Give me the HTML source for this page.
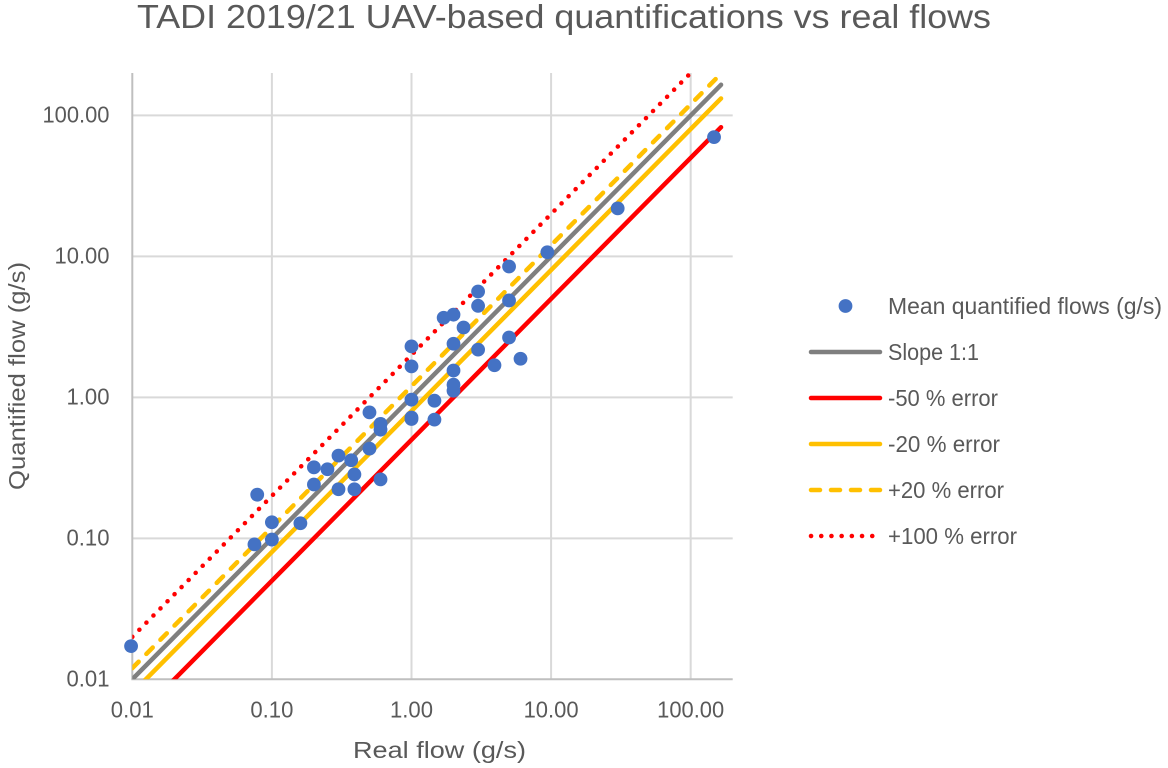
<!DOCTYPE html>
<html lang="en">
<head>
<meta charset="utf-8">
<title>TADI 2019/21 UAV-based quantifications vs real flows</title>
<style>
html,body{margin:0;padding:0;background:#fff;}
#chart{display:block;width:1168px;height:768px;font-family:"Liberation Sans",sans-serif;}
text{fill:#595959;}
</style>
</head>
<body>
<svg id="chart" xmlns="http://www.w3.org/2000/svg" width="1168" height="768" viewBox="0 0 1168 768">
  <defs>
    <clipPath id="plot-clip"><rect x="132.3" y="73" width="600.4" height="606.3"></rect></clipPath>
  </defs>
  <text x="564" y="28" text-anchor="middle" font-size="33.5" textLength="854" lengthAdjust="spacingAndGlyphs">TADI 2019/21 UAV-based quantifications vs real flows</text>
  <g id="grid"></g>
  <g id="axes"></g>
  <g id="lines" clip-path="url(#plot-clip)"></g>
  <g id="points"></g>
  <text x="439.5" y="758" text-anchor="middle" font-size="23.5" textLength="173" lengthAdjust="spacingAndGlyphs">Real flow (g/s)</text>
  <text transform="translate(25,376) rotate(-90)" text-anchor="middle" font-size="23.5" textLength="228" lengthAdjust="spacingAndGlyphs">Quantified flow (g/s)</text>
  <g>
    <g>
      <circle cx="845.5" cy="306" r="6.9" fill="#4472c4"></circle>
      <text x="888" y="314" font-size="23" textLength="274" lengthAdjust="spacingAndGlyphs">Mean quantified flows (g/s)</text>
    </g>
    <g>
      <line x1="811" y1="352" x2="880" y2="352" stroke="#7f7f7f" stroke-width="4.5" stroke-linecap="round"></line>
      <text x="888" y="360" font-size="23" textLength="91" lengthAdjust="spacingAndGlyphs">Slope 1:1</text>
    </g>
    <g>
      <line x1="811" y1="398" x2="880" y2="398" stroke="#ff0000" stroke-width="4.5" stroke-linecap="round"></line>
      <text x="888" y="406" font-size="23" textLength="110" lengthAdjust="spacingAndGlyphs">-50 % error</text>
    </g>
    <g>
      <line x1="811" y1="444" x2="880" y2="444" stroke="#ffc000" stroke-width="4.5" stroke-linecap="round"></line>
      <text x="888" y="452" font-size="23" textLength="112" lengthAdjust="spacingAndGlyphs">-20 % error</text>
    </g>
    <g>
      <line x1="811" y1="490" x2="880" y2="490" stroke="#ffc000" stroke-width="4.5" stroke-linecap="round" stroke-dasharray="9 11"></line>
      <text x="888" y="498" font-size="23" textLength="116" lengthAdjust="spacingAndGlyphs">+20 % error</text>
    </g>
    <g>
      <line x1="811" y1="536" x2="874" y2="536" stroke="#ff0000" stroke-width="4.5" stroke-linecap="round" stroke-dasharray="0.1 10.1"></line>
      <text x="888" y="544" font-size="23" textLength="129" lengthAdjust="spacingAndGlyphs">+100 % error</text>
    </g>
  </g>
</svg>
<script>
var xTicks = [0.01, 0.1, 1, 10, 100];
var yTicks = [0.01, 0.1, 1, 10, 100];
var xTickLabels = ['0.01', '0.10', '1.00', '10.00', '100.00'];
var yTickLabels = ['0.01', '0.10', '1.00', '10.00', '100.00'];
var axisMin = 0.01;
var axisMax = 200;

var realFlows = [0.0098, 0.0785, 0.1, 0.1, 0.075, 0.16, 0.2, 0.2, 0.25, 0.3, 0.3, 0.37, 0.39, 0.39, 0.5, 0.5, 0.6, 0.6, 0.6, 1, 1, 1, 1, 1, 1.46, 1.46, 1.7, 2, 2, 2, 2, 2, 2.36, 3, 3, 3, 3.93, 5, 5, 5, 6.04, 9.4, 30, 147];
var quantifiedFlows = [0.0172, 0.204, 0.13, 0.098, 0.0906, 0.128, 0.319, 0.241, 0.309, 0.386, 0.223, 0.358, 0.284, 0.223, 0.783, 0.433, 0.648, 0.59, 0.262, 0.963, 0.703, 0.72, 2.3, 1.66, 0.947, 0.695, 3.67, 3.86, 2.4, 1.55, 1.23, 1.115, 3.13, 5.64, 4.46, 2.18, 1.69, 8.48, 4.87, 2.66, 1.88, 10.7, 21.9, 70.2];

var slopeX = [0.01, 165];
var slopeY = [0.01, 165];
var minus50X = [0.01, 165];
var minus50Y = [0.005, 82.5];
var minus20X = [0.01, 165];
var minus20Y = [0.008, 132];
var plus20X = [0.01, 155];
var plus20Y = [0.012, 186];
var plus100X = [0.01, 96];
var plus100Y = [0.02, 192];

var SVG_NS = 'http://www.w3.org/2000/svg';
var plotLeft = 132.3, plotRight = 732.7, plotTop = 73, plotBottom = 679.3;

function log10(v) { return Math.log(v) / Math.LN10; }
function xScale(v) {
  return plotLeft + (log10(v) - log10(axisMin)) / (log10(axisMax) - log10(axisMin)) * (plotRight - plotLeft);
}
function yScale(v) {
  return plotBottom - (log10(v) - log10(axisMin)) / (log10(axisMax) - log10(axisMin)) * (plotBottom - plotTop);
}
function make(tag, attrs, parent) {
  var el = document.createElementNS(SVG_NS, tag);
  for (var k in attrs) { el.setAttribute(k, attrs[k]); }
  parent.appendChild(el);
  return el;
}
function labelWidth(s) { return (s.length - 1) * 12 + 7; }

var grid = document.getElementById('grid');
var axes = document.getElementById('axes');
var linesGroup = document.getElementById('lines');
var pointsGroup = document.getElementById('points');

xTicks.forEach(function (t, i) {
  if (i > 0) {
    var g = make('line', {x1: xScale(t), x2: xScale(t), y1: plotTop, y2: plotBottom, stroke: '#d9d9d9', 'stroke-width': 2}, grid);
    
    
  }
  var label = make('text', {x: xScale(t), y: 717.5, 'text-anchor': 'middle', 'font-size': 23.5, textLength: labelWidth(xTickLabels[i]), lengthAdjust: 'spacingAndGlyphs'}, axes);
  
  
  label.textContent = xTickLabels[i];
});

yTicks.forEach(function (t, i) {
  if (i > 0) {
    var g = make('line', {x1: plotLeft, x2: plotRight, y1: yScale(t), y2: yScale(t), stroke: '#d9d9d9', 'stroke-width': 2}, grid);
    
    
  }
  var label = make('text', {x: 109.5, y: yScale(t) + 7, 'text-anchor': 'end', 'font-size': 23.5, textLength: labelWidth(yTickLabels[i]), lengthAdjust: 'spacingAndGlyphs'}, axes);
  
  
  label.textContent = yTickLabels[i];
});

var xAxisLine = make('line', {x1: plotLeft - 1, x2: plotRight, y1: plotBottom, y2: plotBottom, stroke: '#bfbfbf', 'stroke-width': 2}, axes);


var yAxisLine = make('line', {x1: plotLeft, x2: plotLeft, y1: plotTop, y2: plotBottom, stroke: '#bfbfbf', 'stroke-width': 2}, axes);



function drawLine(xs, ys, color, dash, name) {
  var pts = xs.map(function (x, i) { return xScale(x) + ',' + yScale(ys[i]); }).join(' ');
  var attrs = {points: pts, fill: 'none', stroke: color, 'stroke-width': 4.5, 'stroke-linecap': 'round'};
  if (dash) { attrs['stroke-dasharray'] = dash; }
  var el = make('polyline', attrs, linesGroup);
  
  
}
drawLine(plus100X, plus100Y, '#ff0000', '0.1 9.9', 'line-plus-100-percent');
drawLine(plus20X, plus20Y, '#ffc000', '9 11', 'line-plus-20-percent');
drawLine(minus50X, minus50Y, '#ff0000', null, 'line-minus-50-percent');
drawLine(minus20X, minus20Y, '#ffc000', null, 'line-minus-20-percent');
drawLine(slopeX, slopeY, '#7f7f7f', null, 'line-slope-1-1');

realFlows.forEach(function (x, i) {
  var c = make('circle', {cx: xScale(x), cy: yScale(quantifiedFlows[i]), r: 6.9, fill: '#4472c4'}, pointsGroup);
  
  
});
</script>
</body>
</html>
